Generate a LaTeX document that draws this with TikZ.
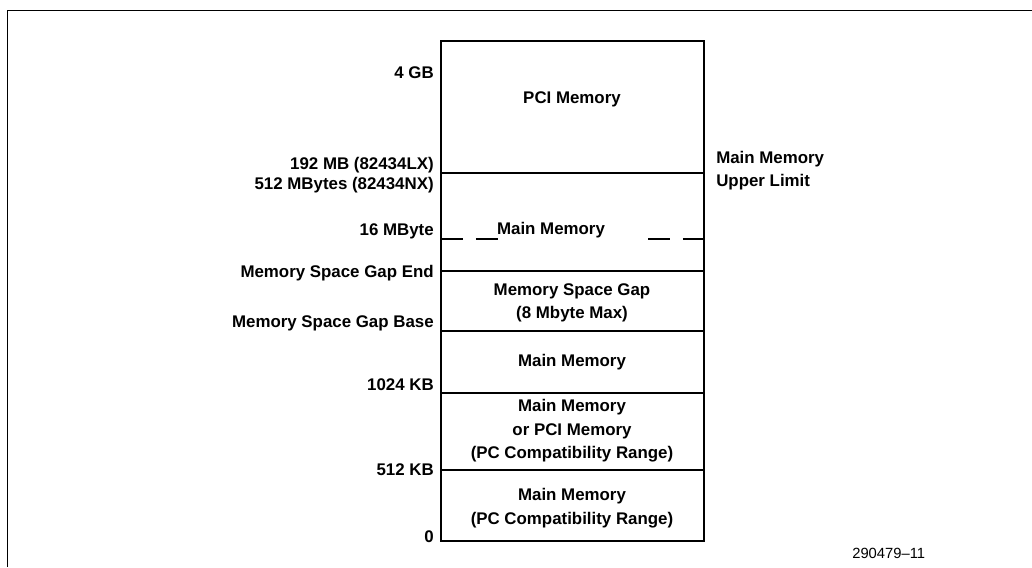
\documentclass[tikz,border=0pt]{standalone}
\usepackage{fontspec}
\setmainfont{Liberation Sans}
\usetikzlibrary{positioning}

\begin{document}
\begin{tikzpicture}[x=0.025cm,y=-0.025cm]
\tikzstyle{every node}+=[inner sep=0pt]
\tikzstyle{addr}=[anchor=east,font=\bfseries\fontsize{12}{16.5}\selectfont]
\tikzstyle{region}=[align=center,font=\bfseries\fontsize{12}{16.8}\selectfont]
\tikzstyle{mapline}=[line width=1.1pt]
\tikzstyle{gapdash}=[mapline,dash pattern=on 15.6pt off 9.2pt]
\useasboundingbox (0,0) rectangle (1032,567);
% page frame
\draw [line width=0.7pt] (7,567) -- (7,10) -- (1032,10);
% memory map
\draw [mapline] (441,41) rectangle (704,541);
\draw [line width=1.4pt] (441,173) -- (704,173);
\draw [gapdash] (441,239) -- (498,239);
\draw [gapdash] (648,239) -- (704,239);
\draw [mapline] (441,271) -- (704,271);
\draw [mapline] (441,331) -- (704,331);
\draw [mapline] (441,393) -- (704,393);
\draw [mapline] (441,470) -- (704,470);
% regions
\node [region] (pci) at (572,99) {PCI Memory};
\node [region] (mainhi) at (551,230) {Main Memory};
\node [region] (gap) at (572,303) {Memory Space Gap\\(8 Mbyte Max)};
\node [region] (mainlo) at (572,362) {Main Memory};
\node [region] (compat) at (572,431) {Main Memory\\or PCI Memory\\(PC Compatibility Range)};
\node [region] (base) at (572,508) {Main Memory\\(PC Compatibility Range)};
% addresses
\node [addr] (gb4) at (434,73) {4 GB};
\node [addr] (lx) at (434,165) {192 MB (82434LX)};
\node [addr] (nx) at (434,185) {512 MBytes (82434NX)};
\node [addr] (mb16) at (434,231) {16 MByte};
\node [addr] (gapend) at (434,273) {Memory Space Gap End};
\node [addr] (gapbase) at (434,323) {Memory Space Gap Base};
\node [addr] (kb1024) at (434,385) {1024 KB};
\node [addr] (kb512) at (434,470) {512 KB};
\node [addr] (zero) at (434,537) {0};
\node [addr,anchor=west,align=left] (limit) at (716,171) {Main Memory\\Upper Limit};
% figure number
\node [anchor=west,font=\fontsize{10.5}{12}\selectfont] (fignum) at (852,553) {290479--11};
\end{tikzpicture}
\end{document}
